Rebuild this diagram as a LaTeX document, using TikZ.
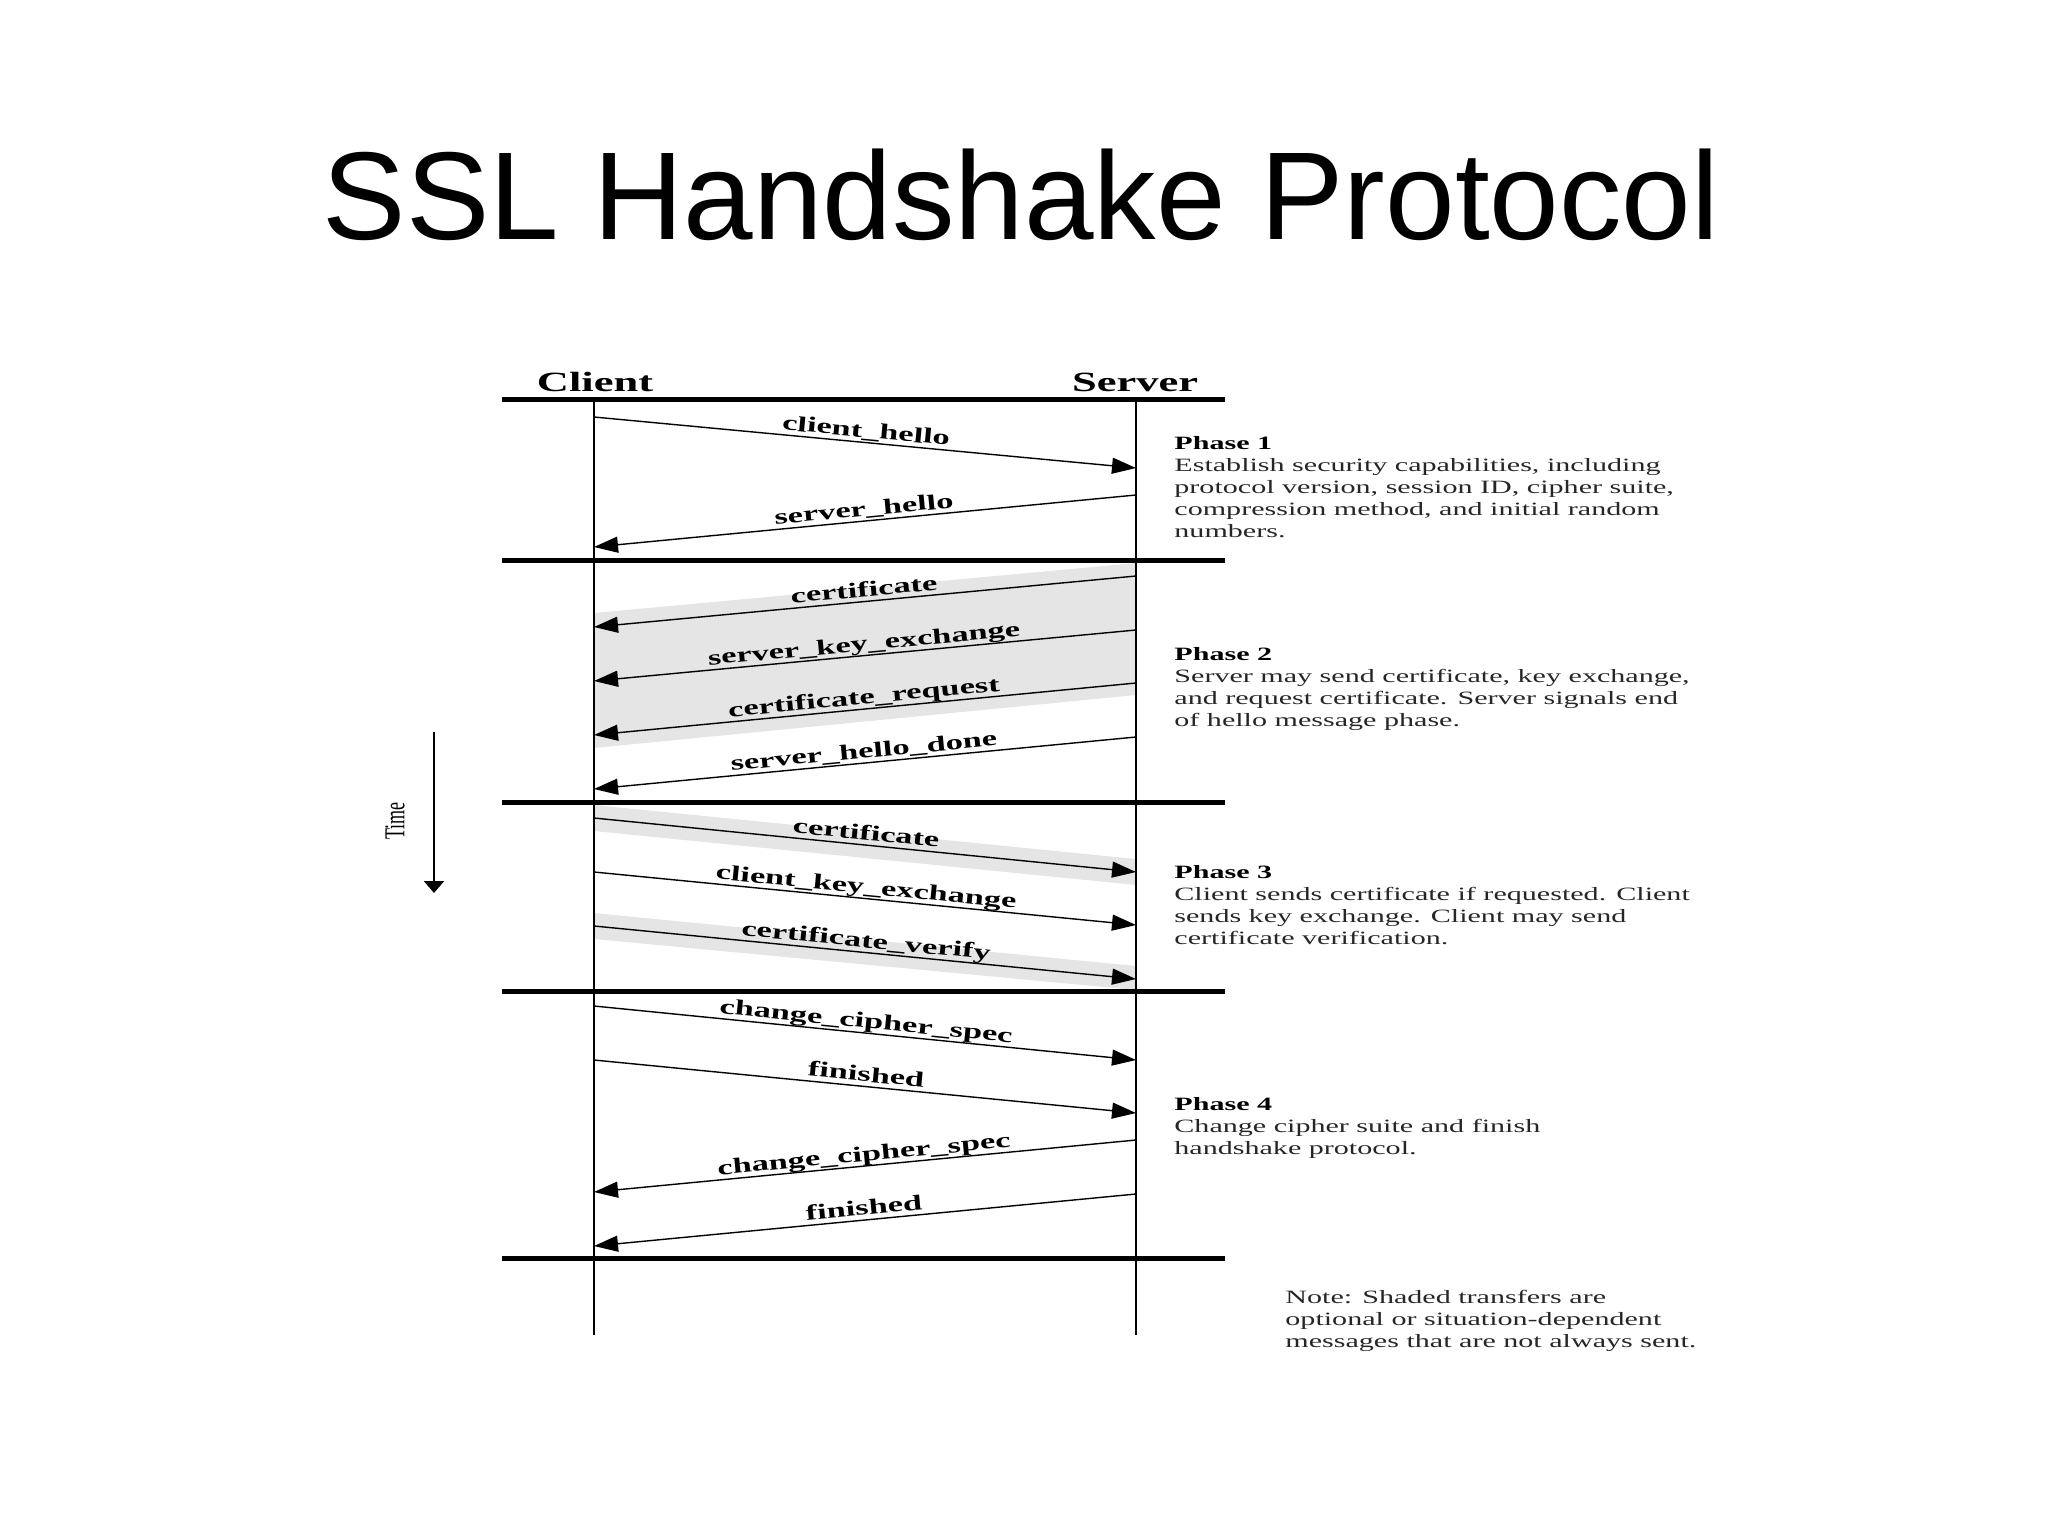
\documentclass[tikz,border=0pt]{standalone}
\usepackage{fontspec}
\setmainfont{Liberation Serif}
\newfontfamily\titlefont{Liberation Sans}
\newfontfamily\diagfont[FakeStretch=1.6]{Liberation Serif}
\usepackage{tikz}
\usetikzlibrary{arrows.meta,positioning}

\begin{document}
\begin{tikzpicture}[x=0.5pt, y=-0.5pt,
  every node/.style={inner sep=0pt},
  phaseline/.style={line width=2.5pt},
  lifeline/.style={line width=1pt},
  msg/.style={line width=0.7pt, -{Triangle[length=12pt,width=8pt]}},
  lbl/.style={sloped, anchor=base, yshift=2.5pt, font=\diagfont\bfseries\fontsize{10.75}{12}\selectfont},
  party/.style={anchor=base, font=\diagfont\bfseries\fontsize{13.9}{16}\selectfont},
  phasetxt/.style={anchor=base west, align=left, text=black!85, font=\diagfont\fontsize{9.4}{11}\selectfont},
  optband/.style={fill=black!10}]

\useasboundingbox (0,0) rectangle (2048,1536);

  % Title
  \node[anchor=base, font=\titlefont\fontsize{62.5}{70}\selectfont] (title) at (1021,239) {SSL Handshake Protocol};

  % Shaded (optional) transfers
  \fill[optband] (594,613) -- (1136,563) -- (1136,695) -- (594,748) -- cycle;
  \fill[optband] (594,805) -- (1136,859) -- (1136,885) -- (594,831) -- cycle;
  \fill[optband] (594,913) -- (1136,966) -- (1136,990) -- (594,939) -- cycle;

  % Client and Server
  \node[party] (client) at (595,391) {Client};
  \node[party] (server) at (1135,391) {Server};
  \coordinate (ctop) at (594,399);
  \coordinate (cbot) at (594,1335);
  \coordinate (stop) at (1136,399);
  \coordinate (sbot) at (1136,1335);
  \draw[lifeline] (ctop) -- (cbot);
  \draw[lifeline] (stop) -- (sbot);

  % Phase separators
  \draw[phaseline] (502,399) -- (1225,399);
  \draw[phaseline] (502,560) -- (1225,560);
  \draw[phaseline] (502,802) -- (1225,802);
  \draw[phaseline] (502,991) -- (1225,991);
  \draw[phaseline] (502,1258) -- (1225,1258);

  % Phase 1
  \coordinate (c1) at (594,417);  \coordinate (s1) at (1136,468);
  \coordinate (s2) at (1136,495); \coordinate (c2) at (594,547);
  \draw[msg] (c1) -- node[lbl] (l1) {client\_hello} (s1);
  \draw[msg] (s2) -- node[lbl] (l2) {server\_hello} (c2);

  % Phase 2
  \coordinate (s3) at (1136,576); \coordinate (c3) at (594,627);
  \coordinate (s4) at (1136,630); \coordinate (c4) at (594,681);
  \coordinate (s5) at (1136,683); \coordinate (c5) at (594,735);
  \coordinate (s6) at (1136,737); \coordinate (c6) at (594,789);
  \draw[msg] (s3) -- node[lbl] (l3) {certificate} (c3);
  \draw[msg] (s4) -- node[lbl] (l4) {server\_key\_exchange} (c4);
  \draw[msg] (s5) -- node[lbl] (l5) {certificate\_request} (c5);
  \draw[msg] (s6) -- node[lbl] (l6) {server\_hello\_done} (c6);

  % Phase 3
  \coordinate (c7) at (594,818);  \coordinate (s7) at (1136,872);
  \coordinate (c8) at (594,872);  \coordinate (s8) at (1136,925);
  \coordinate (c9) at (594,926);  \coordinate (s9) at (1136,979);
  \draw[msg] (c7) -- node[lbl] (l7) {certificate} (s7);
  \draw[msg] (c8) -- node[lbl] (l8) {client\_key\_exchange} (s8);
  \draw[msg] (c9) -- node[lbl] (l9) {certificate\_verify} (s9);

  % Phase 4
  \coordinate (c10) at (594,1006);  \coordinate (s10) at (1136,1060);
  \coordinate (c11) at (594,1060);  \coordinate (s11) at (1136,1113);
  \coordinate (s12) at (1136,1140); \coordinate (c12) at (594,1192);
  \coordinate (s13) at (1136,1194); \coordinate (c13) at (594,1246);
  \draw[msg] (c10) -- node[lbl] (l10) {change\_cipher\_spec} (s10);
  \draw[msg] (c11) -- node[lbl] (l11) {finished} (s11);
  \draw[msg] (s12) -- node[lbl] (l12) {change\_cipher\_spec} (c12);
  \draw[msg] (s13) -- node[lbl] (l13) {finished} (c13);

  % Phase descriptions (placed at the baseline of their last line)
  \node[phasetxt] (ph1) at (1174,537) {\textbf{\color{black}Phase 1}\\
    Establish security capabilities, including\\
    protocol version, session ID, cipher suite,\\
    compression method, and initial random\\
    numbers.};
  \node[phasetxt] (ph2) at (1174,726) {\textbf{\color{black}Phase 2}\\
    Server may send certificate, key exchange,\\
    and request certificate. Server signals end\\
    of hello message phase.};
  \node[phasetxt] (ph3) at (1174,944) {\textbf{\color{black}Phase 3}\\
    Client sends certificate if requested. Client\\
    sends key exchange. Client may send\\
    certificate verification.};
  \node[phasetxt] (ph4) at (1174,1154) {\textbf{\color{black}Phase 4}\\
    Change cipher suite and finish\\
    handshake protocol.};
  \node[phasetxt] (note) at (1285,1347) {Note: Shaded transfers are\\
    optional or situation-dependent\\
    messages that are not always sent.};

  % Time axis
  \coordinate (t0) at (434,732);
  \coordinate (t1) at (434,893);
  \draw[line width=1pt, -{Triangle[length=6pt,width=10pt]}] (t0) -- (t1);
  \node[rotate=90, font=\fontsize{9}{10}\selectfont] (time) at (395,821) {\scalebox{1}[1.6]{Time}};

\end{tikzpicture}
\end{document}
